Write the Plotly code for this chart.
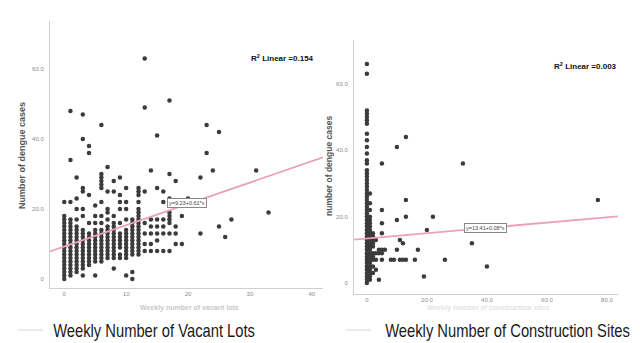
import plotly.graph_objects as go

# ---------------- data ----------------
# Left panel: weekly number of vacant lots vs number of dengue cases
vacant_lots = [0, 1, 2, 3, 4, 5, 6, 7, 8, 9, 10, 11, 12, 13, 14, 15, 16, 17, 18, 19, 20,
               22, 23, 24, 25, 26, 27, 31, 33]
vacant_cases = [
    [0, 1, 2, 3, 4, 5, 6, 7, 8, 9, 10, 11, 12, 13, 14, 15, 16, 17, 18, 22],
    [1, 2, 3, 4, 5, 6, 7, 8, 9, 10, 11, 12, 13, 14, 15, 16, 17, 22, 34, 48],
    [2, 3, 4, 5, 6, 7, 8, 9, 10, 11, 12, 13, 14, 15, 17, 20, 23, 29],
    [1, 3, 4, 5, 6, 7, 8, 9, 10, 11, 12, 13, 14, 18, 20, 25, 26, 40, 47],
    [4, 5, 6, 7, 8, 9, 10, 11, 12, 13, 16, 24, 36, 38],
    [1, 5, 6, 7, 8, 9, 10, 11, 12, 13, 14, 16, 18, 21],
    [5, 6, 7, 8, 9, 10, 11, 12, 13, 14, 16, 18, 22, 26, 27, 28, 29, 30, 44],
    [6, 7, 8, 9, 10, 11, 12, 13, 14, 15, 17, 19, 20, 25, 32],
    [3, 6, 7, 8, 9, 10, 11, 12, 13, 14, 15, 16, 18, 25, 28],
    [6, 7, 9, 10, 11, 12, 13, 16, 20, 22, 24, 29],
    [1, 6, 7, 8, 9, 10, 11, 12, 13, 14, 17, 20, 22, 26],
    [0, 2, 7, 8, 9, 10, 11, 12, 13, 14, 15, 16, 17],
    [7, 8, 9, 10, 11, 12, 13, 14, 15, 16, 17, 18, 19, 20, 22, 24, 25, 26],
    [8, 10, 13, 16, 25, 49, 63],
    [8, 10, 13, 15, 17, 31],
    [8, 11, 13, 15, 17, 26, 41],
    [8, 13, 15, 17, 22, 25],
    [8, 13, 16, 17, 18, 19, 23, 30, 51],
    [10, 13, 15, 28],
    [10, 18],
    [23],
    [13, 29],
    [36, 44],
    [31],
    [15, 42],
    [12],
    [17],
    [31],
    [19],
]
vacant_fit = [9.23, 0.61]          # intercept, slope
vacant_r2 = "0.154"

# Right panel: weekly number of construction sites vs number of dengue cases
construction_sites = [0, 1, 2, 3, 4, 5, 6, 8, 9, 10, 11, 12, 13, 16, 17, 19, 20, 22,
                      26, 32, 35, 40, 77]
construction_cases = [
    [0, 1, 2, 3, 4, 5, 6, 7, 8, 9, 10, 11, 12, 13, 14, 15, 16, 17, 18, 19, 20, 21, 22,
     23, 24, 25, 26, 27, 28, 29, 30, 31, 32, 33, 34, 36, 37, 39, 41, 43, 45, 48, 49,
     50, 51, 52, 63, 66],
    [1, 2, 3, 4, 5, 6, 7, 8, 9, 10, 11, 12, 13, 14, 15, 16, 17, 18, 19, 20, 22, 24, 27],
    [3, 5, 7, 8, 9, 11, 12, 13, 14, 15],
    [4, 7, 9, 13],
    [1, 9, 10],
    [7, 9, 10, 15, 18, 22, 36],
    [10],
    [7],
    [7],
    [10, 19, 41],
    [7, 13],
    [7, 12],
    [7, 20, 25, 44],
    [7],
    [10],
    [2],
    [16],
    [20],
    [7],
    [36],
    [12],
    [5],
    [25],
]
construction_fit = [13.41, 0.08]
construction_r2 = "0.003"

# tick labels
vacant_xticks = [0, 10, 20, 30, 40]
vacant_xlabels = ["0", "10", "20", "30", "40"]
construction_xticks = [0, 20, 40, 60, 80]
construction_xlabels = ["0", "20.0", "40.0", "60.0", "80.0"]
cases_yticks = [0, 20, 40, 60]
cases_ylabels = ["0", "20.0", "40.0", "60.0"]

panel_titles = ["Weekly Number of Vacant Lots", "Weekly Number of Construction Sites"]
axis_titles = ["Weekly number of vacant lots", "Weekly number of construction sites"]
y_titles = ["Number of dengue cases", "number of dengue cases"]

# ---------------- figure ----------------
W, H = 640, 343


def flat(xs, cols):
    fx, fy = [], []
    for x, col in zip(xs, cols):
        for v in col:
            fx.append(x)
            fy.append(v)
    return fx, fy


vx, vy = flat(vacant_lots, vacant_cases)
cx, cy = flat(construction_sites, construction_cases)

x1_range = [-2.3, 41.8]
y1_range = [-2.6, 73.7]
x2_range = [-4.3, 83.7]
y2_range = [-3.3, 73.2]

DOT = "#3b3b3b"
FIT = "#eaa3b5"
AX = "#cfcfcf"
TICK = "#8a8a8a"
SANS = "Liberation Sans, Arial, sans-serif"

fig = go.Figure()
fig.add_trace(go.Scatter(x=vx, y=vy, mode="markers", xaxis="x", yaxis="y",
                         marker=dict(color=DOT, size=4.5, line=dict(width=0)),
                         showlegend=False, hoverinfo="skip"))
fig.add_trace(go.Scatter(x=x1_range, y=[vacant_fit[0] + vacant_fit[1] * v for v in x1_range],
                         mode="lines", xaxis="x", yaxis="y",
                         line=dict(color=FIT, width=1.8), showlegend=False, hoverinfo="skip"))
fig.add_trace(go.Scatter(x=cx, y=cy, mode="markers", xaxis="x2", yaxis="y2",
                         marker=dict(color=DOT, size=4.5, line=dict(width=0)),
                         showlegend=False, hoverinfo="skip"))
fig.add_trace(go.Scatter(x=x2_range, y=[construction_fit[0] + construction_fit[1] * v for v in x2_range],
                         mode="lines", xaxis="x2", yaxis="y2",
                         line=dict(color=FIT, width=1.8), showlegend=False, hoverinfo="skip"))

common_ax = dict(showgrid=False, zeroline=False, showline=True, linecolor=AX, linewidth=1,
                 ticks="", tickfont=dict(size=6, color=TICK, family=SANS))

fig.update_layout(
    width=W, height=H, margin=dict(l=0, r=0, t=0, b=0),
    paper_bgcolor="white", plot_bgcolor="white",
    xaxis=dict(domain=[42 / W, 315 / W], range=x1_range, anchor="y",
               tickvals=vacant_xticks, ticktext=vacant_xlabels, **common_ax),
    yaxis=dict(domain=[(H - 280) / H, (H - 13) / H], range=y1_range, anchor="x",
               tickvals=cases_yticks, ticktext=cases_ylabels, ticklabelstandoff=4, **common_ax),
    xaxis2=dict(domain=[346 / W, 610 / W], range=x2_range, anchor="y2",
                tickvals=construction_xticks, ticktext=construction_xlabels, **common_ax),
    yaxis2=dict(domain=[(H - 286) / H, (H - 32) / H], range=y2_range, anchor="x2",
                tickvals=cases_yticks, ticktext=cases_ylabels, ticklabelstandoff=4, **common_ax),
)

ann = []
# y-axis titles
ann.append(dict(text="<b>" + y_titles[0] + "</b>", x=22 / W, y=(H - 148) / H, xref="paper", yref="paper",
                xanchor="center", yanchor="middle", xshift=-8,
                textangle=-90, showarrow=False, font=dict(size=9, color="#555", family=SANS)))
ann.append(dict(text="<b>" + y_titles[1] + "</b>", x=329 / W, y=(H - 158) / H, xref="paper", yref="paper",
                xanchor="center", yanchor="middle", xshift=-8,
                textangle=-90, showarrow=False, font=dict(size=8.5, color="#555", family=SANS)))
# faint x-axis titles
ann.append(dict(text="<b>" + axis_titles[0] + "</b>", x=181 / W, y=(H - 306) / H, xref="paper", yref="paper",
                xanchor="center", showarrow=False, font=dict(size=7, color="#c8c8c8", family=SANS)))
ann.append(dict(text="<b>" + axis_titles[1] + "</b>", x=480 / W, y=(H - 306) / H, xref="paper", yref="paper",
                xanchor="center", showarrow=False, font=dict(size=7, color="#e4e4e4", family=SANS)))
# R^2 labels
ann.append(dict(text="<b>R<sup>2</sup> Linear =" + vacant_r2 + "</b>", x=308 / W, y=(H - 43) / H,
                xref="paper", yref="paper", xanchor="right", showarrow=False,
                font=dict(size=8, color="#111", family=SANS)))
ann.append(dict(text="<b>R<sup>2</sup> Linear =" + construction_r2 + "</b>", x=611 / W, y=(H - 51) / H,
                xref="paper", yref="paper", xanchor="right", showarrow=False,
                font=dict(size=8, color="#111", family=SANS)))
# fit equation boxes
ann.append(dict(text="y=%.2f+%.2f*x" % (vacant_fit[0], vacant_fit[1]), x=19.8, y=21.7, xref="x", yref="y",
                showarrow=False, bgcolor="white", bordercolor="#888", borderwidth=1, borderpad=1,
                font=dict(size=5.5, color="#444", family=SANS)))
ann.append(dict(text="y=%.2f+%.2f*x" % (construction_fit[0], construction_fit[1]), x=39.5, y=16.6,
                xref="x2", yref="y2", showarrow=False, bgcolor="white", bordercolor="#888",
                borderwidth=1, borderpad=1, font=dict(size=5.5, color="#444", family=SANS)))
# bottom captions
ann.append(dict(text=panel_titles[0], x=43 / W, y=(H - 323) / H, xref="paper", yref="paper",
                xanchor="left", yanchor="middle", showarrow=False,
                font=dict(size=18, color="#1a1a1a", family=SANS)))
ann.append(dict(text=panel_titles[1], x=375 / W, y=(H - 323) / H, xref="paper", yref="paper",
                xanchor="left", yanchor="middle", showarrow=False,
                font=dict(size=18, color="#1a1a1a", family=SANS)))
fig.update_layout(annotations=ann)

shapes = [
    dict(type="line", xref="paper", yref="paper", x0=10 / W, x1=35 / W, y0=(H - 322) / H, y1=(H - 322) / H,
         line=dict(color="#dedede", width=1.2)),
    dict(type="line", xref="paper", yref="paper", x0=338 / W, x1=363 / W, y0=(H - 322) / H, y1=(H - 322) / H,
         line=dict(color="#dedede", width=1.2)),
]
fig.update_layout(shapes=shapes)

# condense the caption text horizontally (narrow typeface look)
post = """
var gd = document.getElementById('{plot_id}');
gd.querySelectorAll('text').forEach(function(t){
  if (t.textContent.indexOf('Weekly Number') === 0) {
    t.style.transformBox = 'fill-box';
    t.style.transformOrigin = '0% 50%';
    t.style.transform = 'scaleX(0.82)';
  }
});
"""

fig.write_html("out.html", post_script=post)
